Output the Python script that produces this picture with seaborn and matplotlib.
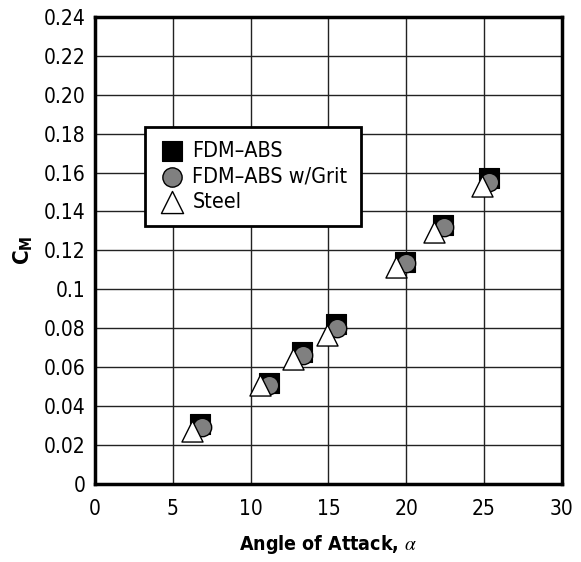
import pandas as pd
import seaborn as sns
import matplotlib.pyplot as plt

# angle of attack and moment coefficient
abs_alpha = [6.75, 11.2, 13.3, 15.5, 19.9, 22.35, 25.35]
abs_cm = [0.031, 0.052, 0.068, 0.082, 0.114, 0.133, 0.157]

grit_alpha = [6.9, 11.2, 13.35, 15.55, 20.0, 22.4, 25.3]
grit_cm = [0.029, 0.051, 0.066, 0.080, 0.1135, 0.132, 0.155]

steel_alpha = [6.25, 10.6, 12.7, 14.9, 19.35, 21.8, 24.85]
steel_cm = [0.027, 0.051, 0.064, 0.0765, 0.1115, 0.1295, 0.153]

x_ticks = [0, 5, 10, 15, 20, 25, 30]
y_ticks = [0, 0.02, 0.04, 0.06, 0.08, 0.1, 0.12, 0.14, 0.16, 0.18, 0.20, 0.22, 0.24]
y_labels = ['0', '0.02', '0.04', '0.06', '0.08', '0.1', '0.12', '0.14',
            '0.16', '0.18', '0.20', '0.22', '0.24']

sns.set_style('white')
plt.rcParams['font.family'] = ['DejaVu Sans']
plt.rcParams['font.stretch'] = 'condensed'
plt.rcParams['text.color'] = 'black'
plt.rcParams['axes.labelcolor'] = 'black'
plt.rcParams['xtick.color'] = 'black'
plt.rcParams['ytick.color'] = 'black'
plt.rcParams['mathtext.fontset'] = 'dejavusans'

df_abs = pd.DataFrame({'alpha': abs_alpha, 'cm': abs_cm})
df_grit = pd.DataFrame({'alpha': grit_alpha, 'cm': grit_cm})
df_steel = pd.DataFrame({'alpha': steel_alpha, 'cm': steel_cm})

fig = plt.figure(figsize=(5.81, 5.62), dpi=100)
ax = fig.add_axes([0.1635, 0.139, 0.8035, 0.831])

sns.scatterplot(data=df_abs, x='alpha', y='cm', marker='s', s=190, color='black',
                edgecolor='black', linewidth=0.8, label='FDM\u2013ABS', ax=ax, zorder=3)
sns.scatterplot(data=df_grit, x='alpha', y='cm', marker='o', s=175, color='#808080',
                edgecolor='black', linewidth=1.0, label='FDM\u2013ABS w/Grit', ax=ax, zorder=4)
sns.scatterplot(data=df_steel, x='alpha', y='cm', marker='^', s=230, color='white',
                edgecolor='black', linewidth=1.0, label='Steel', ax=ax, zorder=5)

ax.set_xlim(0, 30)
ax.set_ylim(0, 0.24)
ax.set_xticks(x_ticks)
ax.set_yticks(y_ticks)
ax.set_yticklabels(y_labels)
ax.tick_params(labelsize=15, length=0)
ax.tick_params(axis='y', pad=7)
ax.tick_params(axis='x', pad=11)
ax.grid(True, color='#222222', linewidth=1.0)
ax.set_axisbelow(True)
for sp in ax.spines.values():
    sp.set_linewidth(2.5)
    sp.set_color('black')

ax.set_xlabel('Angle of Attack, $\\alpha$', fontsize=14, fontweight='bold',
              labelpad=10, math_fontfamily='stix')
ax.set_ylabel('C$_\\mathbf{M}$', fontsize=16, fontweight='bold', labelpad=6)

leg = ax.legend(loc='upper left', bbox_to_anchor=(0.107, 0.764), fontsize=15.5,
                frameon=True, fancybox=False, borderpad=0.65, handletextpad=0.35,
                labelspacing=0.25, borderaxespad=0, handlelength=1.2, markerscale=1.05)
leg.get_frame().set_edgecolor('black')
leg.get_frame().set_linewidth(2)
leg.get_frame().set_alpha(1)

plt.savefig('out.png', dpi=100)
plt.close()
